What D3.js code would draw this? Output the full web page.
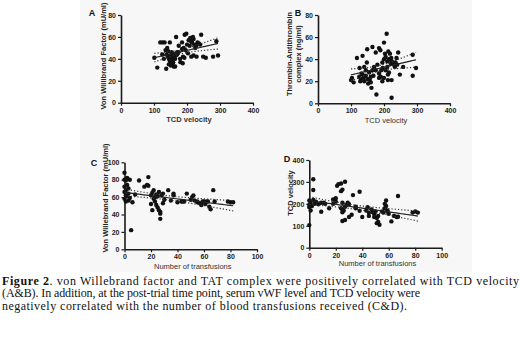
<!DOCTYPE html>
<html lang="en">
<head>
<meta charset="UTF-8">
<script src="https://cdn.jsdelivr.net/npm/d3@7"></script>
<style>
  body { margin: 0; background: #fff; }
</style>
</head>
<body>
<div id="fig"></div>
<script>
// --- data ---
// A: TCD velocity vs von Willebrand factor
const tcdA = [101,110,119,126,132,137,135,140,138,142,145,148,150,152,155,157,158,160,162,164,166,148,151,160,164,167,170,174,179,180,185,187,188,192,193,198,200,205,208,210,213,215,218,220,222,225,228,232,236,240,243,213,220,229,249,257,279,289,294,196,203,185,175,190,143,153,170,125,130,145,156];
const vwfA = [41,32,55,55,55,31,48,50,44,42,40,38,43,41,39,45,37,42,44,40,43,55,34,33,33,60,46,46,40,37,49,36,42,41,62,63,53,57,52,59,56,55,60,58,53,50,52,55,54,53,62,42,43,42,42,41,42,56,43,48,45,55,52,50,47,46,44,44,40,35,36];

// B: TCD velocity vs thrombin-antithrombin complex
const tcdB = [103,108,100,118,135,149,165,185,189,200,208,203,213,218,175,200,205,210,215,220,222,224,243,238,233,287,297,287,248,223,223,177,162,152,157,125,130,135,140,145,150,155,160,165,170,140,148,126,185,190,185,192,196,195,200,212,212,258,230,235,180,175,145,132,138,128,160,168,205,210,215,195,240];
const tatB = [23,19,21,41,43,49,51,50,48,55,63,45,47,45,46,40,42,38,40,36,41,38,46,41,33,44,32,25,26,21,5,8,14,18,21,24,22,26,20,25,22,28,24,30,33,33,37,32,23,24,27,30,32,20,23,21,26,33,35,37,35,30,30,27,23,20,19,25,30,33,28,37,35];

// C: number of transfusions vs von Willebrand factor
const nC = [0,0,1,2,4,0,2,0,1,3,2,0,1,3,4,6,5,11,8,15,17,18,18,20,21,22,24,26,28,29,22,23,24,25,26,27,27,27,29,33,37,37,40,43,44,47,51,52,55,55,58,59,60,62,63,64,67,68,78,80,82,20,21,23,25,30,35,45,50,53,57,61,65,1,3];
const vwfC = [88,80,79,82,80,72,74,66,62,64,61,58,55,56,59,54,22,79,63,72,74,73,83,62,65,68,63,66,62,64,58,55,51,48,45,43,41,35,53,68,62,64,54,55,55,64,60,62,54,55,51,55,55,55,55,49,68,55,55,54,54,52,45,60,61,57,56,55,57,56,53,52,46,68,70];

// D: number of transfusions vs TCD velocity
const nD = [3,3,0,1,3,5,0,2,4,7,9,0,1,0,9,11,18,20,18,20,21,22,24,24,25,27,25,27,25,26,28,29,30,24,25,25,27,30,32,33,38,35,38,40,43,44,45,47,48,49,50,49,51,52,51,52,55,56,57,57,58,58,59,59,64,66,67,67,78,80,82,45,53,60,62,35,15,12];
const tcdD = [312,263,215,205,218,210,195,190,200,198,205,185,170,103,164,205,220,226,200,210,282,290,293,258,265,301,205,187,162,170,195,205,198,180,175,122,126,140,150,240,255,187,168,140,170,185,160,175,162,155,165,140,135,145,112,118,165,160,180,200,215,190,170,165,145,140,236,141,160,165,160,145,105,155,120,180,180,200];

const xTicksVel = [0,100,200,300,400];
const xTicksTx = [0,20,40,60,80,100];
const yTicks80 = [0,20,40,60,80];
const yTicks100 = [0,20,40,60,80,100];
const yTicks400 = [0,100,200,300,400];

const captionLines = [
  ["Figure 2", ". von Willebrand factor and TAT complex were positively correlated with TCD velocity"],
  ["", "(A&B).  In addition, at the post-trial time point, serum vWF level and TCD velocity were"],
  ["", "negatively correlated with the number of blood transfusions received (C&D)."]
];
const captionWidths = [517, 418, 405];

const width = 520, height = 337;
const sans = "Liberation Sans, Arial, sans-serif";
const svg = d3.select("#fig").append("svg")
  .attr("width", width)
  .attr("height", height);

svg.append("rect").attr("width", width).attr("height", height).attr("fill", "#fff");
// faint grey backing of the pasted figure
svg.append("rect").attr("x", 80).attr("y", 0).attr("width", 392).attr("height", 272).attr("fill", "#f7f7f7");

const panels = [
  {letter:"A", xs:tcdA, ys:vwfA, xd:[0,400], yd:[0,80], xr:[121,253], yr:[102.7,15],
   xt:xTicksVel, yt:yTicks80, xlab:"TCD velocity", xlabBold:true, ylab:["Von Willibrand Factor (mU/ml)"],
   lx:92, ly:16, ylx:103, yly:56, xly:122},
  {letter:"B", xs:tcdB, ys:tatB, xd:[0,400], yd:[0,80], xr:[318,450], yr:[103.3,15],
   xt:xTicksVel, yt:yTicks80, xlab:"TCD velocity", xlabBold:false, ylab:["Thrombin-Antithrombin","complex (ng/ml)"],
   lx:298, ly:16, ylx:294, yly:54, xly:122.5},
  {letter:"C", xs:nC, ys:vwfC, xd:[0,100], yd:[0,100], xr:[124.5,257], yr:[249.3,162.3],
   xt:xTicksTx, yt:yTicks100, xlab:"Number of transfusions", xlabBold:false, ylab:["Von Willebrand Factor (mU/ml)"],
   lx:94, ly:166, ylx:105, yly:198, xly:269},
  {letter:"D", xs:nD, ys:tcdD, xd:[0,100], yd:[0,400], xr:[309.3,441.7], yr:[247.7,160],
   xt:xTicksTx, yt:yTicks400, xlab:"Number of transfusions", xlabBold:false, ylab:["TCD velocity"],
   lx:287, ly:162, ylx:290, yly:193, xly:266}
];

// least squares fit with 95% confidence band of the mean
function fitLine(xs, ys) {
  const n = xs.length;
  const mx = d3.mean(xs), my = d3.mean(ys);
  let sxx = 0, sxy = 0;
  xs.forEach((x, i) => { sxx += (x - mx) ** 2; sxy += (x - mx) * (ys[i] - my); });
  const b = sxy / sxx, a = my - b * mx;
  let sse = 0;
  xs.forEach((x, i) => { sse += (ys[i] - a - b * x) ** 2; });
  const s = Math.sqrt(sse / (n - 2));
  const t = 1.99;
  const [lo, hi] = d3.extent(xs);
  return d3.range(0, 41).map(k => {
    const x = lo + (hi - lo) * k / 40;
    const yh = a + b * x;
    const se = s * Math.sqrt(1 / n + (x - mx) ** 2 / sxx);
    return {x, y: yh, up: yh + t * se, dn: yh - t * se};
  });
}

panels.forEach(p => {
  const x = d3.scaleLinear().domain(p.xd).range(p.xr);
  const y = d3.scaleLinear().domain(p.yd).range(p.yr);
  const g = svg.append("g").style("font-family", sans);

  const xAxis = g.append("g")
    .attr("transform", `translate(0,${p.yr[0]})`)
    .call(d3.axisBottom(x).tickValues(p.xt).tickSize(3).tickSizeOuter(0).tickPadding(2));
  const yAxis = g.append("g")
    .attr("transform", `translate(${p.xr[0]},0)`)
    .call(d3.axisLeft(y).tickValues(p.yt).tickSize(3).tickSizeOuter(0).tickPadding(2));
  [xAxis, yAxis].forEach(ax => {
    ax.attr("font-family", null);
    ax.select(".domain").attr("stroke", "#1a1a1a").attr("stroke-width", 1.6);
    ax.selectAll(".tick line").attr("stroke", "#1a1a1a").attr("stroke-width", 1.2);
    ax.selectAll("text").attr("font-size", 7).attr("font-weight", "bold").attr("fill", "#222");
  });

  // points
  g.selectAll("circle.pt").data(p.xs.map((v, i) => [v, p.ys[i]])).join("circle")
    .attr("class", "pt")
    .attr("cx", d => x(d[0])).attr("cy", d => y(d[1]))
    .attr("r", 2.2).attr("fill", "#111");

  // regression line and band
  const fit = fitLine(p.xs, p.ys);
  const mk = key => d3.line().x(d => x(d.x)).y(d => y(d[key]));
  g.append("path").attr("d", mk("y")(fit)).attr("fill", "none").attr("stroke", "#222").attr("stroke-width", 1.2);
  ["up", "dn"].forEach(k => {
    g.append("path").attr("d", mk(k)(fit)).attr("fill", "none").attr("stroke", "#333")
      .attr("stroke-width", 1.2).attr("stroke-dasharray", "1.2,2");
  });

  // labels
  g.append("text").attr("x", p.lx).attr("y", p.ly).attr("text-anchor", "middle")
    .attr("font-size", 9).attr("font-weight", "bold").attr("fill", "#111").text(p.letter);
  g.append("text").attr("x", (p.xr[0] + p.xr[1]) / 2 + 2).attr("y", p.xly).attr("text-anchor", "middle")
    .attr("font-size", 7.5).attr("font-weight", p.xlabBold ? "bold" : "normal").attr("fill", "#333").text(p.xlab);
  const nl = p.ylab.length;
  p.ylab.forEach((t, i) => {
    const cx = p.ylx + (i - (nl - 1) / 2) * 9.5;
    g.append("text").attr("transform", `translate(${cx},${p.yly}) rotate(-90)`)
      .attr("text-anchor", "middle").attr("dy", "0.35em")
      .attr("font-size", 7.5).attr("font-weight", "bold").attr("fill", "#222").text(t);
  });
});

// caption
const cap = svg.append("g").style("font-family", "Liberation Serif, Times New Roman, serif");
captionLines.forEach((ln, i) => {
  const t = cap.append("text").attr("x", 2).attr("y", 285 + i * 12.3)
    .attr("font-size", 12).attr("fill", "#111")
    .attr("textLength", captionWidths[i]).attr("lengthAdjust", "spacing");
  if (ln[0]) t.append("tspan").attr("font-weight", "bold").text(ln[0]);
  t.append("tspan").text(ln[1]);
});
</script>
</body>
</html>
